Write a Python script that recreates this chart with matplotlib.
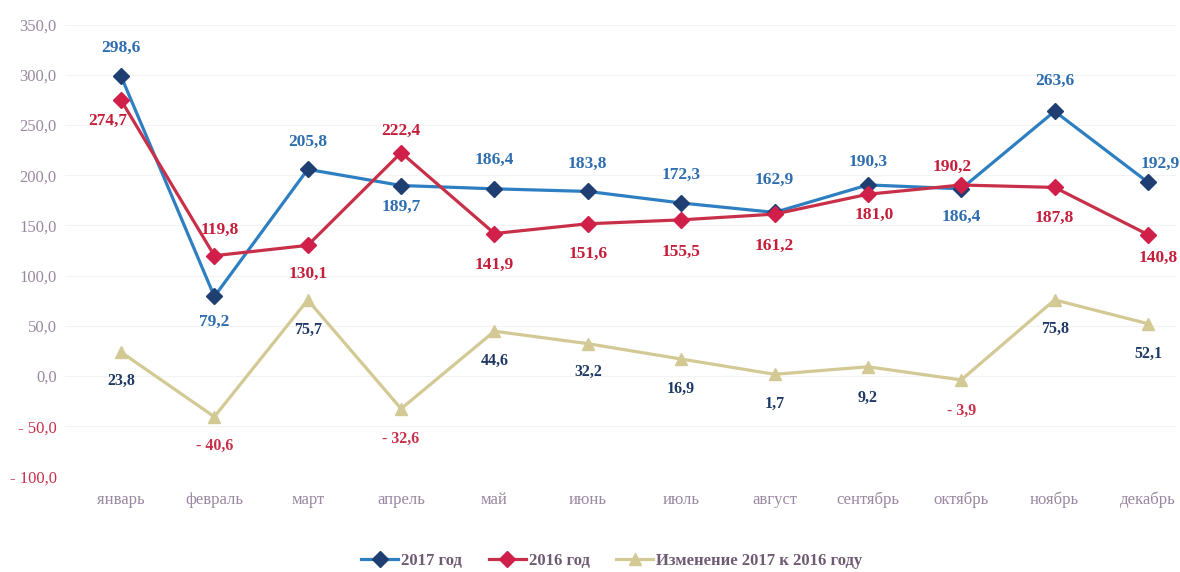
import numpy as np
import matplotlib
matplotlib.use("Agg")
import matplotlib.pyplot as plt

plt.rcParams['font.family'] = ['Liberation Serif', 'DejaVu Serif']

# data
months = ["январь", "февраль", "март", "апрель", "май", "июнь",
          "июль", "август", "сентябрь", "октябрь", "ноябрь", "декабрь"]
y2017 = [298.6, 79.2, 205.8, 189.7, 186.4, 183.8, 172.3, 162.9, 190.3, 186.4, 263.6, 192.9]
y2016 = [274.7, 119.8, 130.1, 222.4, 141.9, 151.6, 155.5, 161.2, 181.0, 190.2, 187.8, 140.8]
change = [23.8, -40.6, 75.7, -32.6, 44.6, 32.2, 16.9, 1.7, 9.2, -3.9, 75.8, 52.1]
yticks = [-100, -50, 0, 50, 100, 150, 200, 250, 300, 350]

# label offsets in pixels (dx, dy)
off17 = [(0, 28), (0, -25), (0, 27), (0, -21), (0, 29), (0, 28),
         (0, 28), (0, 33), (0, 23), (0, -28), (0, 30), (12, 18)]
off16 = [(-13, -21), (5, 26), (0, -29), (0, 22), (0, -31), (0, -30),
         (0, -32), (0, -32), (6, -21), (-9, 18), (0, -30), (10, -23)]
offch = [(0, -29), (0, -29), (0, -30), (0, -30), (0, -30), (0, -28),
         (0, -30), (0, -30), (0, -31), (0, -31), (0, -29), (0, -30)]

c17_line, c17_mark, c17_text = '#2E7FC2', '#1F3F73', '#2E6DB0'
c16_line, c16_mark, c16_text = '#C8304A', '#D0204A', '#C41E3A'
cch = '#D2C994'
navy = '#1F3864'
tick_col = '#9A88A0'
red = '#C8304A'


def fmt(v):
    s = "%.1f" % abs(v)
    s = s.replace('.', ',')
    return "- " + s if v < 0 else s


fig = plt.figure(figsize=(11.8, 5.72), dpi=100)
ax = fig.add_axes([65 / 1180, 0.1671, 1111 / 1180, 0.790])
x = np.arange(len(months))

ax.plot(x, change, color=cch, lw=2.3, marker='^', ms=9, mfc=cch, mec=cch,
        label="Изменение 2017 к 2016 году", clip_on=False, zorder=3)
ax.plot(x, y2017, color=c17_line, lw=2.3, marker='D', ms=8, mfc=c17_mark, mec=c17_mark,
        label="2017 год", clip_on=False, zorder=4)
ax.plot(x, y2016, color=c16_line, lw=2.3, marker='D', ms=8, mfc=c16_mark, mec=c16_mark,
        label="2016 год", clip_on=False, zorder=5)

for i in range(len(months)):
    ax.annotate(fmt(y2017[i]), (x[i], y2017[i]), xytext=off17[i], textcoords='offset pixels',
                ha='center', va='center', fontsize=12.5, fontweight='bold', color=c17_text)
    ax.annotate(fmt(y2016[i]), (x[i], y2016[i]), xytext=off16[i], textcoords='offset pixels',
                ha='center', va='center', fontsize=12.5, fontweight='bold', color=c16_text)
    ax.annotate(fmt(change[i]), (x[i], change[i]), xytext=offch[i], textcoords='offset pixels',
                ha='center', va='center', fontsize=11.5, fontweight='bold',
                color=navy if change[i] >= 0 else red)

ax.set_xlim(-0.6, 11.3)
ax.set_ylim(-100, 350)
ax.set_yticks(yticks)
ax.set_yticklabels([fmt(t) for t in yticks])
for t, lab in zip(yticks, ax.get_yticklabels()):
    lab.set_color(red if t < 0 else tick_col)
ax.set_xticks(x)
ax.set_xticklabels(months, color=tick_col)
ax.tick_params(axis='y', length=0, pad=6, labelsize=12)
ax.tick_params(axis='x', length=0, pad=11, labelsize=12)
ax.grid(axis='y', color='#F3F3F3', lw=0.8)
ax.set_axisbelow(True)
for s in ax.spines.values():
    s.set_visible(False)

h, l = ax.get_legend_handles_labels()
order = [1, 2, 0]
leg = fig.legend([h[k] for k in order], [l[k] for k in order], loc='center',
                 bbox_to_anchor=(612 / 1180, 1 - 561 / 572), ncol=3, frameon=False,
                 handlelength=2.2, handletextpad=0.2, columnspacing=1.6,
                 prop={'size': 12, 'weight': 'bold'})
for t in leg.get_texts():
    t.set_color('#6E5A72')

fig.savefig("out.png", dpi=100)
